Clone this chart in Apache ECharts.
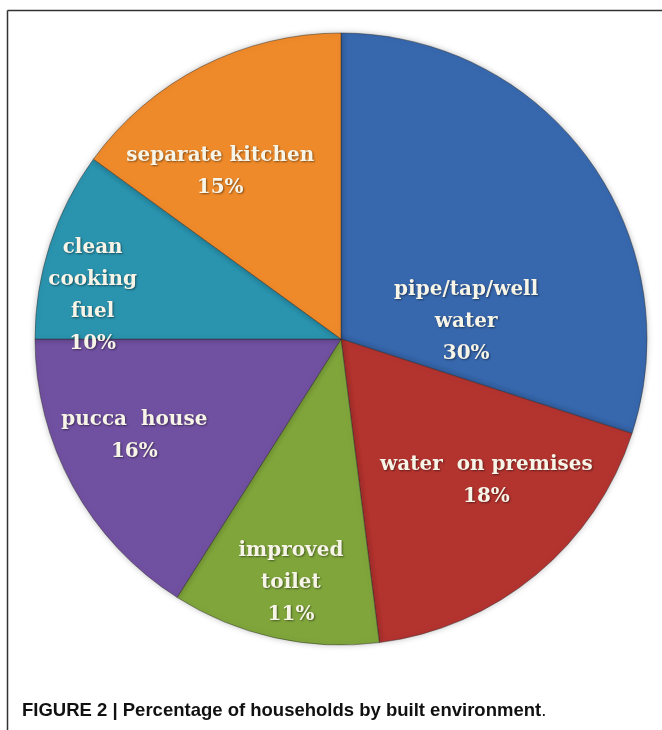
<!DOCTYPE html>
<html>
<head>
<meta charset="utf-8">
<script src="https://cdn.jsdelivr.net/npm/echarts@6/dist/echarts.min.js"></script>
<style>html,body{margin:0;padding:0;background:#fff}#c{width:662px;height:730px}</style>
</head>
<body>
<div id="c"></div>
<script>
var categories = ['pipe/tap/well\nwater', 'water  on premises', 'improved\ntoilet', 'pucca  house', 'clean\ncooking\nfuel', 'separate kitchen'];
var values = [30, 18, 11, 16, 10, 15];
var colors = ['#3767AD', '#B3332F', '#7FA53B', '#7050A0', '#2A93AE', '#EE8A2A'];
var labelOffsets = [[-1, 74], [46, 22], [-16, 92], [-70, 22], [-100, 5], [-50, -28]];

var chart = echarts.init(document.getElementById('c'), null, {renderer: 'canvas'});
var data = categories.map(function (n, i) {
  return {
    name: n,
    value: values[i],
    itemStyle: {color: colors[i]},
    label: {offset: labelOffsets[i]}
  };
});
chart.setOption({
  animation: false,
  title: {
    text: '{b|FIGURE 2 | Percentage of households by built environment}{r|.}',
    left: 17,
    top: 696,
    textStyle: {
      rich: {
        b: {fontFamily: '"Liberation Sans", Arial', fontWeight: 'bold', fontSize: 18.5, color: '#111'},
        r: {fontFamily: '"Liberation Sans", Arial', fontWeight: 'normal', fontSize: 18.5, color: '#111'}
      }
    }
  },
  graphic: [
    {type: 'line', shape: {x1: 7.5, y1: 10.5, x2: 662, y2: 10.5}, style: {stroke: '#333', lineWidth: 1.5}},
    {type: 'line', shape: {x1: 7.5, y1: 10.5, x2: 7.5, y2: 730}, style: {stroke: '#333', lineWidth: 1.5}}
  ],
  series: [{
    type: 'pie',
    center: [341, 339],
    radius: [0, 306],
    startAngle: 90,
    clockwise: true,
    data: data,
    itemStyle: {
      borderColor: 'rgba(40,40,40,0.45)',
      borderWidth: 1,
      shadowBlur: 6,
      shadowColor: 'rgba(0,0,0,0.25)'
    },
    label: {
      position: 'inside',
      formatter: '{b}\n{c}%',
      fontFamily: '"DejaVu Serif", serif',
      fontWeight: 'bold',
      fontSize: 20,
      lineHeight: 32,
      color: '#F7F4E8',
      align: 'center',
      textShadowColor: 'rgba(0,0,0,0.45)',
      textShadowBlur: 2,
      textShadowOffsetX: 1,
      textShadowOffsetY: 1
    },
    labelLine: {show: false},
    emphasis: {disabled: true}
  }]
});
</script>
</body>
</html>
